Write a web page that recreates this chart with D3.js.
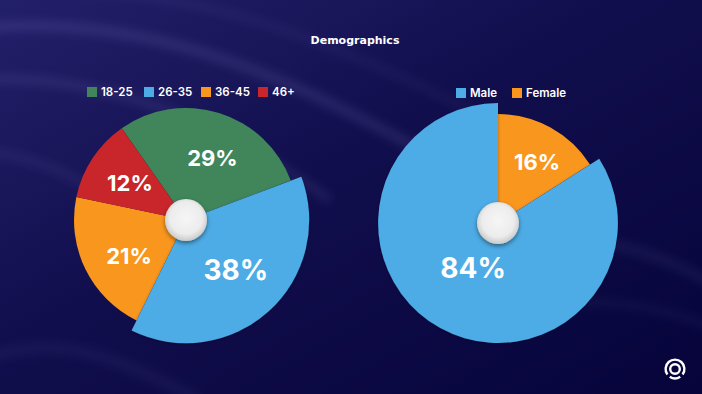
<!DOCTYPE html>
<html>
<head>
<meta charset="utf-8">
<script src="https://cdn.jsdelivr.net/npm/d3@7"></script>
<style>
html, body { margin:0; padding:0; background:#0b0944; overflow:hidden; }
</style>
</head>
<body>
<div id="chart"></div>
<script>
var title = 'Demographics';

var ageLabels = ['18-25', '26-35', '36-45', '46+'];
var ageValues = [29, 38, 21, 12];
var ageColors = ['#40865a', '#4dabe5', '#f9961e', '#c8262a'];

var genderLabels = ['Male', 'Female'];
var genderValues = [84, 16];
var genderColors = ['#4dabe5', '#f9961e'];

var W = 702, H = 394;

var svg = d3.select('#chart').append('svg')
	.attr('width', W)
	.attr('height', H);

var defs = svg.append('defs');

// background
var bg = defs.append('linearGradient').attr('id', 'bgGrad')
	.attr('x1', 0).attr('y1', 0).attr('x2', 1).attr('y2', 1);
bg.append('stop').attr('offset', '0%').attr('stop-color', '#23206a');
bg.append('stop').attr('offset', '45%').attr('stop-color', '#110e4d');
bg.append('stop').attr('offset', '100%').attr('stop-color', '#06043a');

defs.append('filter').attr('id', 'wispBlur')
	.attr('x', '-20%').attr('y', '-20%').attr('width', '140%').attr('height', '140%')
	.append('feGaussianBlur').attr('stdDeviation', 5);

var knobGrad = defs.append('radialGradient').attr('id', 'knobGrad')
	.attr('cx', '50%').attr('cy', '45%').attr('r', '55%');
knobGrad.append('stop').attr('offset', '0%').attr('stop-color', '#f6f6f6');
knobGrad.append('stop').attr('offset', '70%').attr('stop-color', '#ececec');
knobGrad.append('stop').attr('offset', '100%').attr('stop-color', '#c9c9c9');

var shadow = defs.append('filter').attr('id', 'shadow')
	.attr('x', '-50%').attr('y', '-50%').attr('width', '200%').attr('height', '200%');
shadow.append('feDropShadow').attr('dx', 0).attr('dy', 2).attr('stdDeviation', 2)
	.attr('flood-color', '#000').attr('flood-opacity', 0.45);

var sliceShadow = defs.append('filter').attr('id', 'sliceShadow')
	.attr('x', '-20%').attr('y', '-20%').attr('width', '140%').attr('height', '140%');
sliceShadow.append('feDropShadow').attr('dx', 0).attr('dy', 1).attr('stdDeviation', 1.5)
	.attr('flood-color', '#000').attr('flood-opacity', 0.35);

svg.append('rect').attr('width', W).attr('height', H).attr('fill', 'url(#bgGrad)');

// soft light streaks in the backdrop
var wisps = svg.append('g').attr('filter', 'url(#wispBlur)').attr('fill', 'none');
var wispLines = [
	['M-40,30 C120,10 260,60 420,150', 10, 0.12],
	['M-40,80 C100,70 220,120 330,200', 8, 0.10],
	['M-40,150 C40,150 110,190 170,250', 8, 0.08],
	['M60,-10 C200,-10 330,40 470,110', 6, 0.07],
	['M520,250 C600,230 660,250 740,300', 10, 0.07],
	['M480,320 C580,290 660,300 740,340', 8, 0.05],
	['M-20,360 C60,330 120,360 200,400', 12, 0.05]
];
wispLines.forEach(function(w){
	wisps.append('path')
		.attr('d', w[0])
		.attr('stroke', '#b9b6ff')
		.attr('stroke-width', w[1])
		.attr('stroke-opacity', w[2]);
});

// title
svg.append('text')
	.attr('x', 355).attr('y', 44)
	.attr('text-anchor', 'middle')
	.attr('fill', '#ffffff')
	.style('font-family', 'DejaVu Sans, sans-serif')
	.style('font-weight', 'bold')
	.style('font-size', '11px')
	.text(title);

// one pie
function drawPie(opt){
	var g = svg.append('g').attr('transform', 'translate(' + opt.cx + ',' + opt.cy + ')');

	var pie = d3.pie().sort(null)
		.startAngle(opt.start)
		.endAngle(opt.start + Math.PI * 2);

	var arcs = pie(opt.values);
	var total = d3.sum(opt.values);

	var radius = function(i){ return i === opt.active ? opt.r * 1.1 : opt.r; };

	var order = d3.range(arcs.length).filter(function(i){ return i !== opt.active; });
	order.push(opt.active);

	order.forEach(function(i){
		var a = arcs[i];
		var arc = d3.arc().innerRadius(0).outerRadius(radius(i));
		g.append('path')
			.attr('d', arc(a))
			.attr('fill', opt.colors[i])
			.attr('filter', i === opt.active ? 'url(#sliceShadow)' : null);
	});

	arcs.forEach(function(a, i){
		var mid = (a.startAngle + a.endAngle) / 2 + opt.labelTurn[i] * Math.PI / 180;
		var lr = radius(i) * opt.labelPos[i];
		var pct = Math.round(a.value / total * 100) + '%';
		g.append('text')
			.attr('x', Math.sin(mid) * lr)
			.attr('y', -Math.cos(mid) * lr)
			.attr('dy', '0.36em')
			.attr('text-anchor', 'middle')
			.attr('fill', '#ffffff')
			.style('font-family', 'Inter, sans-serif')
			.style('font-weight', 700)
			.style('font-size', (i === opt.active ? 28 : 22) + 'px')
			.text(pct);
	});

	// centre knob
	g.append('circle')
		.attr('r', 21)
		.attr('fill', 'url(#knobGrad)')
		.attr('filter', 'url(#shadow)');

	// legend
	var leg = svg.append('g').attr('transform', 'translate(' + opt.legX + ',' + opt.legY + ')');
	opt.labels.forEach(function(d, i){
		var item = leg.append('g').attr('transform', 'translate(' + (i * opt.legStep) + ',0)');
		item.append('rect')
			.attr('x', 0).attr('y', -9)
			.attr('width', 10).attr('height', 10)
			.attr('fill', opt.colors[i]);
		item.append('text')
			.attr('x', 14).attr('y', 0)
			.attr('fill', '#ffffff')
			.style('font-family', 'Inter, sans-serif')
			.style('font-weight', 600)
			.style('font-size', '11.5px')
			.text(d);
	});
}

drawPie({
	cx : 186, cy : 220, r : 112,
	values : ageValues, labels : ageLabels, colors : ageColors,
	start : -35 * Math.PI / 180,
	active : 1,
	labelPos : [0.6, 0.57, 0.6, 0.6],
	labelTurn : [6, -3, -6, 0],
	legX : 87, legY : 96, legStep : 57
});

drawPie({
	cx : 498, cy : 223, r : 109,
	values : genderValues, labels : genderLabels, colors : genderColors,
	start : -genderValues[0] / d3.sum(genderValues) * Math.PI * 2,
	active : 0,
	labelPos : [0.43, 0.66],
	labelTurn : [0, 4],
	legX : 456, legY : 97, legStep : 56
});

// small logo, bottom right
var logo = svg.append('g').attr('transform', 'translate(675,369)');
var ring = d3.arc().innerRadius(8.2).outerRadius(10.6);
logo.append('path').attr('d', ring({startAngle : -2.2, endAngle : 2.2})).attr('fill', '#ffffff');
logo.append('path').attr('d', ring({startAngle : 2.55, endAngle : 3.73})).attr('fill', '#ffffff');
logo.append('circle').attr('r', 4.8).attr('fill', 'none')
	.attr('stroke', '#ffffff').attr('stroke-width', 2.4);
</script>
</body>
</html>
